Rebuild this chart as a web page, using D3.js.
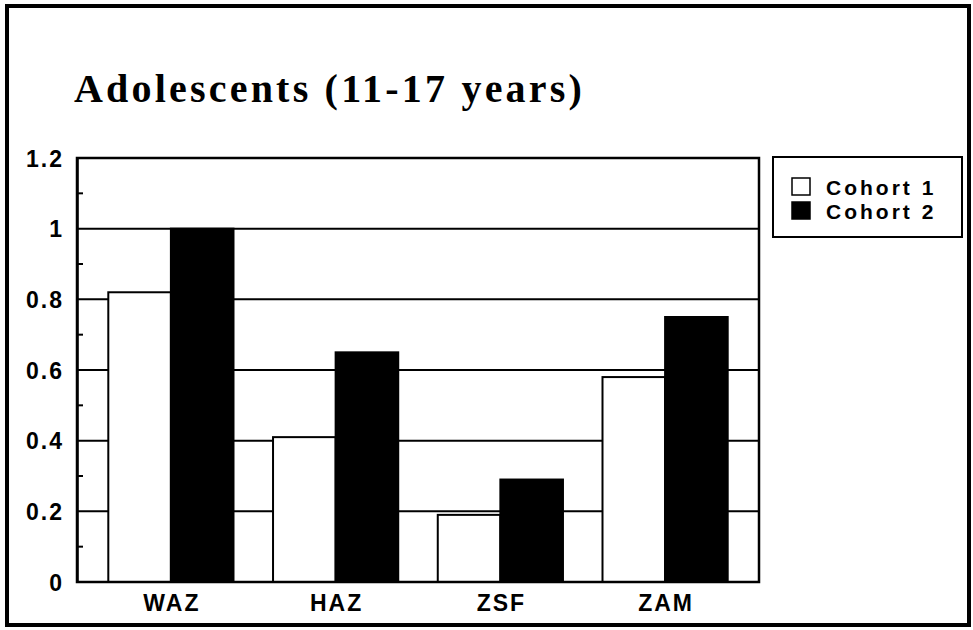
<!DOCTYPE html>
<html>
<head>
<meta charset="utf-8">
<script src="https://cdn.jsdelivr.net/npm/d3@7/dist/d3.min.js"></script>
<style>
  html, body { margin: 0; padding: 0; background: #fff; }
  svg { display: block; }
</style>
</head>
<body>
<script>
const title = "Adolescents (11-17 years)";
const categories = ["WAZ", "HAZ", "ZSF", "ZAM"];
const seriesNames = ["Cohort 1", "Cohort 2"];
const cohort1 = [0.82, 0.41, 0.19, 0.58];
const cohort2 = [1.00, 0.65, 0.29, 0.75];
const yTicks = [0, 0.2, 0.4, 0.6, 0.8, 1, 1.2];
const yMinorTicks = [0.1, 0.3, 0.5, 0.7, 0.9, 1.1];
const seriesColors = ["#ffffff", "#000000"];

const W = 973, H = 630;
const plot = { left: 77, right: 759, top: 158, bottom: 582 };
const sansFont = "'Liberation Sans', Arial, sans-serif";

const svg = d3.select("body").append("svg").attr("width", W).attr("height", H);
svg.append("rect").attr("width", W).attr("height", H).attr("fill", "#fff");

// outer frame
svg.append("rect").attr("x", 7).attr("y", 6).attr("width", 962).attr("height", 619)
  .attr("fill", "none").attr("stroke", "#000").attr("stroke-width", 4);

// title
svg.append("text").attr("x", 74).attr("y", 102)
  .attr("font-family", "'Liberation Serif', 'Times New Roman', serif")
  .attr("font-weight", "bold").attr("font-size", 40).attr("letter-spacing", 3.2)
  .attr("fill", "#000").text(title);

const x0 = d3.scaleBand().domain(categories).range([plot.left, plot.right])
  .paddingInner(0.24).paddingOuter(0.19);
const x1 = d3.scaleBand().domain(seriesNames).range([0, x0.bandwidth()]).padding(0);
const y = d3.scaleLinear().domain([0, 1.2]).range([plot.bottom, plot.top]);

// gridlines
svg.append("g").selectAll("line").data(yTicks.filter(d => d > 0 && d < 1.2)).join("line")
  .attr("x1", plot.left).attr("x2", plot.right)
  .attr("y1", d => y(d)).attr("y2", d => y(d))
  .attr("stroke", "#000").attr("stroke-width", 2);

// bars
const rows = categories.map((c, i) => ({ cat: c, vals: [cohort1[i], cohort2[i]] }));
const g = svg.append("g").selectAll("g").data(rows).join("g")
  .attr("transform", d => `translate(${x0(d.cat)},0)`);
g.selectAll("rect").data(d => d.vals.map((v, j) => ({ s: seriesNames[j], v, j }))).join("rect")
  .attr("x", d => x1(d.s)).attr("width", x1.bandwidth())
  .attr("y", d => y(d.v)).attr("height", d => y(0) - y(d.v))
  .attr("fill", d => seriesColors[d.j]).attr("stroke", "#000").attr("stroke-width", 2);

// plot frame
svg.append("rect").attr("x", plot.left).attr("y", plot.top)
  .attr("width", plot.right - plot.left).attr("height", plot.bottom - plot.top)
  .attr("fill", "none").attr("stroke", "#000").attr("stroke-width", 2.5);

// y axis with minor ticks inward
const yAxis = d3.axisLeft(y).tickValues(yTicks).tickSize(0).tickPadding(13)
  .tickFormat(d => d3.format("")(d));
const ya = svg.append("g").attr("transform", `translate(${plot.left},0)`).call(yAxis);
ya.select(".domain").attr("stroke", "#000").attr("stroke-width", 2.5);
ya.selectAll("text").attr("font-family", sansFont)
  .attr("font-weight", "bold").attr("font-size", 23).attr("letter-spacing", 2).attr("fill", "#000")
  .attr("dy", "0.36em");
svg.append("g").selectAll("line").data(yMinorTicks).join("line")
  .attr("x1", plot.left).attr("x2", plot.left + 6)
  .attr("y1", d => y(d)).attr("y2", d => y(d))
  .attr("stroke", "#000").attr("stroke-width", 2);

// x axis labels
const xAxis = d3.axisBottom(x0).tickSize(0).tickPadding(13);
const xa = svg.append("g").attr("transform", `translate(0,${plot.bottom})`).call(xAxis);
xa.select(".domain").remove();
xa.selectAll("text").attr("font-family", sansFont)
  .attr("font-weight", "bold").attr("font-size", 23).attr("letter-spacing", 2).attr("fill", "#000")
  .attr("dx", 1);

// legend
const lg = svg.append("g");
lg.append("rect").attr("x", 773).attr("y", 157).attr("width", 189).attr("height", 80)
  .attr("fill", "#fff").attr("stroke", "#000").attr("stroke-width", 2);
const items = lg.selectAll("g").data(seriesNames).join("g")
  .attr("transform", (d, i) => `translate(792,${178 + i * 24})`);
items.append("rect").attr("width", 18).attr("height", 17)
  .attr("fill", (d, i) => seriesColors[i]).attr("stroke", "#000").attr("stroke-width", 1.5);
items.append("text").attr("x", 34).attr("y", 17)
  .attr("font-family", sansFont)
  .attr("font-weight", "bold").attr("font-size", 21).attr("letter-spacing", 3).attr("fill", "#000")
  .text(d => d);
</script>
</body>
</html>
